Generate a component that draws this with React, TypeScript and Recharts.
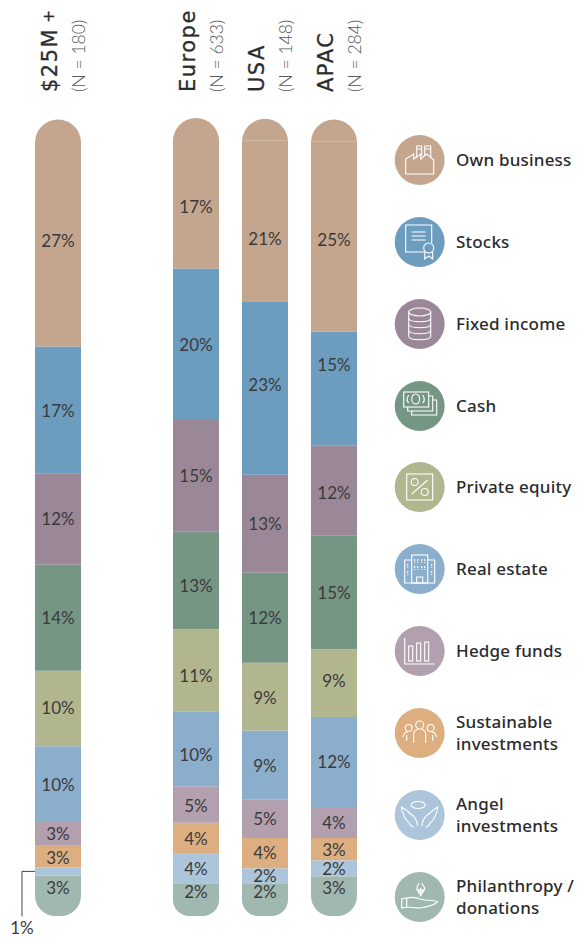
import React from 'react';
import { BarChart, Bar, XAxis, YAxis, LabelList } from 'recharts';

const GROUPS = ['$25M +', '', 'Europe', 'USA', 'APAC'];
const SAMPLE_SIZES = ['(N = 180)', '', '(N = 633)', '(N = 148)', '(N = 284)'];

// segment shares (the printed labels are the source's rounded figures)
const ownBusiness = [28.5, null, 18.9, 22.9, 26.6];
const stocks = [15.9, null, 18.9, 21.8, 14.3];
const fixedIncome = [11.5, null, 14.1, 12.3, 11.3];
const cash = [13.3, null, 12.3, 11.3, 14.3];
const privateEquity = [9.5, null, 10.3, 8.5, 8.5];
const realEstate = [9.5, null, 9.4, 8.7, 11.3];
const hedgeFunds = [2.9, null, 4.6, 4.8, 3.9];
const sustainable = [2.8, null, 3.8, 3.8, 2.8];
const angel = [1.0, null, 3.8, 1.9, 2.0];
const philanthropy = [5.1, null, 4.1, 4.1, 5.0];

const ownBusinessLabels = [27, null, 17, 21, 25];
const stocksLabels = [17, null, 20, 23, 15];
const fixedIncomeLabels = [12, null, 15, 13, 12];
const cashLabels = [14, null, 13, 12, 15];
const privateEquityLabels = [10, null, 11, 9, 9];
const realEstateLabels = [10, null, 10, 9, 12];
const hedgeFundsLabels = [3, null, 5, 5, 4];
const sustainableLabels = [3, null, 4, 4, 3];
const angelLabels = [1, null, 4, 2, 2];
const philanthropyLabels = [3, null, 2, 2, 3];

// labels are not always centred in the source, so each one gets a nudge.
// LabelList skips the empty group, so these only have the four real columns.
const NUDGES: Record<string, number[]> = {
  ownBusiness: [7, 13, 29, 14],
  stocks: [1, 1, -3, -24],
  fixedIncome: [0, 0, 0, 2],
  cash: [0, 5, 0, 0],
  privateEquity: [-1, 5, 1, -3],
  realEstate: [0, 6, 0, 0],
  hedgeFunds: [0, 1, 0, 0],
  sustainable: [1, 1, -1, 0],
  angel: [0, 0, 0, 0],
  philanthropy: [-8, -8, -8, -9],
};

const SERIES = [
  { key: 'philanthropy', values: philanthropy, labels: philanthropyLabels, color: '#A1B8B0' },
  { key: 'angel', values: angel, labels: angelLabels, color: '#ADC5DB' },
  { key: 'sustainable', values: sustainable, labels: sustainableLabels, color: '#DDAF80' },
  { key: 'hedgeFunds', values: hedgeFunds, labels: hedgeFundsLabels, color: '#B2A0AE' },
  { key: 'realEstate', values: realEstate, labels: realEstateLabels, color: '#8BAECC' },
  { key: 'privateEquity', values: privateEquity, labels: privateEquityLabels, color: '#B2B68F' },
  { key: 'cash', values: cash, labels: cashLabels, color: '#769684' },
  { key: 'fixedIncome', values: fixedIncome, labels: fixedIncomeLabels, color: '#9A8898' },
  { key: 'stocks', values: stocks, labels: stocksLabels, color: '#6C9DBF' },
  { key: 'ownBusiness', values: ownBusiness, labels: ownBusinessLabels, color: '#C4A68E' },
];

const chartData = GROUPS.map((group, i) => {
  const row: Record<string, string | number | null> = { group };
  SERIES.forEach((s) => {
    row[s.key] = s.values[i];
    row[`${s.key}Label`] = s.labels[i];
  });
  return row;
});

const TEXT_FONT = 'Lato, "Open Sans", sans-serif';
const LABEL_COLOR = '#3a3a3c';

const GroupTick = ({ x, payload, index }: any) => {
  if (!payload.value) return null;
  const i = GROUPS.indexOf(payload.value);
  const [name, plus] = payload.value.split(' ');
  return (
    <g key={index}>
      <text
        transform={`translate(${x - 1},92) rotate(-90)`}
        fontFamily="DejaVu Sans"
        fontSize={21}
        letterSpacing={1.5}
        stroke="#2b2b2d"
        strokeWidth={0.3}
        fill="#2b2b2d"
      >
        {name}
        {plus && <tspan fontSize={15} dx={5} dy={-3}>{plus}</tspan>}
      </text>
      <text
        transform={`translate(${x + 27},92) rotate(-90)`}
        fontFamily={TEXT_FONT}
        fontWeight={300}
        fontSize={17.5}
        fill="#5a5a5c"
      >
        {SAMPLE_SIZES[i]}
      </text>
    </g>
  );
};

const segmentLabel = (seriesKey: string) => (props: any) => {
  const { x, y, width, height, value, index } = props;
  if (value == null) return null;
  const cx = x + width / 2;
  if (seriesKey === 'angel' && index === 0) {
    // the 1% slice is too thin, so its label hangs off a leader line
    const midY = y + height / 2;
    return (
      <g>
        <path d={`M${x} ${midY}H${x - 13}V${midY + 45}`} fill="none" stroke="#444" strokeWidth={1} />
        <text x={x - 13} y={934} textAnchor="middle" fontFamily={TEXT_FONT} fontSize={17} fill={LABEL_COLOR}>
          {value}%
        </text>
      </g>
    );
  }
  return (
    <g>
      {/* the source has a faint seam under the cap on the two right columns */}
      {seriesKey === 'ownBusiness' && index >= 2 && (
        <line x1={x} x2={x + width} y1={y + 22} y2={y + 22} stroke="#D2BBA8" strokeWidth={1} />
      )}
      <text
        x={cx}
        y={y + height / 2 + NUDGES[seriesKey][index] + 6.5}
        textAnchor="middle"
        fontFamily={TEXT_FONT}
        fontSize={17}
        fill={LABEL_COLOR}
      >
        {value}%
      </text>
    </g>
  );
};

const LEGEND_NAMES = [
  ['Own business'],
  ['Stocks'],
  ['Fixed income'],
  ['Cash'],
  ['Private equity'],
  ['Real estate'],
  ['Hedge funds'],
  ['Sustainable', 'investments'],
  ['Angel', 'investments'],
  ['Philanthropy /', 'donations'],
];
const LEGEND_COLORS = ['#C4A68E', '#6C9DBF', '#9A8898', '#769684', '#B2B68F', '#8BAECC', '#B2A0AE', '#DDAF80', '#ADC5DB', '#A1B8B0'];
const LEGEND_Y = [160, 242, 324, 406, 487, 569, 651, 733, 815, 897];

const WING = 'M-2 11C-3 6 -4 2 -9 -1C-12 -4 -15 -6 -18 -8C-18 -4 -17 -2 -16 -1C-16 1 -15 3 -14 3C-14 5 -12 7 -11 7C-10 9 -8 12 -6 12';

// little white outline icons, drawn around the circle's centre
const ICONS: React.ReactNode[] = [
  <>
    <path d="M-14 14V-1L-6 -6V-1L1 -6V-1L7 -6L14 0V14Z" />
    <path d="M-3 -2V-14H2V-4M5 -5V-14H11V-2M-3 -11H2M5 -11H11" />
  </>,
  <>
    <path d="M5 10H-14V-17H12V1" />
    <path d="M-8 -10H6M-8 -6H6M-8 -2H6" />
    <circle cx={9} cy={6} r={5} />
    <path d="M5 10V17L9 14L13 17V10" />
  </>,
  <>
    <ellipse cx={0} cy={-12} rx={11} ry={4} />
    <path d="M-11 -12V12C-11 17 11 17 11 12V-12M-11 -6C-11 -1 11 -1 11 -6M-11 0C-11 5 11 5 11 0M-11 6C-11 11 11 11 11 6" />
  </>,
  <>
    <rect x={-16} y={-14} width={25} height={15} />
    <path d="M9 -10H13V5H-12V1M13 -6H17V9H-8V5" />
    <ellipse cx={-4} cy={-7} rx={4} ry={5} />
    <path d="M-11 -11C-13 -8 -13 -5 -11 -3M3 -11C5 -8 5 -5 3 -3" />
  </>,
  <>
    <rect x={-13} y={-13} width={26} height={26} />
    <path d="M-8 7L8 -7" />
    <circle cx={-5} cy={-5} r={3.5} />
    <circle cx={5} cy={5} r={3.5} />
  </>,
  <>
    <rect x={-8} y={-14} width={16} height={28} />
    <path d="M-8 -9H-15V14H15V-9H8M-3 14V8H3V14" />
    <path d="M-5 -10V-6M-2 -10V-6M2 -10V-6M5 -10V-6M-5 -3V1M-2 -3V1M2 -3V1M5 -3V1M-12 -5V-1M-12 2V6M12 -5V-1M12 2V6" strokeDasharray="2 1" />
  </>,
  <>
    <path d="M-15 -13V13H15" />
    <rect x={-11} y={-5} width={4} height={15} />
    <rect x={-3} y={-8} width={4} height={18} />
    <rect x={5} y={-9} width={4} height={19} />
  </>,
  <>
    <circle cx={0} cy={-8} r={4} />
    <circle cx={-11} cy={-5} r={3.5} />
    <circle cx={11} cy={-5} r={3.5} />
    <path d="M-6 10V1C-6 -2 -4 -3 -2 -4M6 10V1C6 -2 4 -3 2 -4M-17 4C-16 1 -14 -1 -12 -1M-13 8V2M17 4C16 1 14 -1 12 -1M13 8V2" />
  </>,
  <>
    <ellipse cx={-1.5} cy={-10} rx={7} ry={3.5} />
    <path d={WING} />
    <path d={WING} transform="scale(-1,1)" />
  </>,
  <>
    <path d="M-13 1C-8 0 -4 0 0 2L5 3C9 3 14 3 18 5C14 8 8 10 0 11C-4 11 -9 10 -13 10ZM-18 2L-13 1V10L-18 11Z" />
    <path d="M-3 -8L1 -1L5 -8C5 -11 3 -11 2 -14M-3 -8C-3 -11 -1 -11 -1 -14M-1 -8V-4M1 -9V-2M3 -8V-4M-3 -7H5M-2 -5H4" />
  </>,
];

const LegendPanel = () => (
  <svg width={582} height={937} style={{ position: 'absolute', left: 0, top: 0, pointerEvents: 'none' }}>
    {LEGEND_NAMES.map((lines, i) => (
      <g key={lines[0]}>
        <circle cx={419.7} cy={LEGEND_Y[i]} r={25} fill={LEGEND_COLORS[i]} />
        <g transform={`translate(419.7,${LEGEND_Y[i]})`} fill="none" stroke="#fff" strokeWidth={1.1}>
          {ICONS[i]}
        </g>
        {lines.map((line, j) => (
          <text
            key={line}
            x={456}
            y={LEGEND_Y[i] + 6 + (j - (lines.length - 1) / 2) * 22}
            fontFamily='"Noto Sans", sans-serif'
            fontWeight={500}
            fontSize={17}
            letterSpacing={0.2}
            fill="#2b2b2d"
          >
            {line}
          </text>
        ))}
      </g>
    ))}
  </svg>
);

export default function App() {
  return (
    <div style={{ position: 'absolute', left: 0, top: 0, width: 582, height: 937, background: '#fff' }}>
      <BarChart
        width={582}
        height={937}
        data={chartData}
        margin={{ top: 18, right: 214, bottom: 21, left: 23 }}
        barSize={46}
        barCategoryGap={0}
      >
        <XAxis dataKey="group" orientation="top" height={100} axisLine={false} tickLine={false} interval={0} tick={<GroupTick />} />
        <YAxis hide domain={[0, 100]} />
        {SERIES.map((s, i) => (
          <Bar
            key={s.key}
            dataKey={s.key}
            stackId="a"
            fill={s.color}
            isAnimationActive={false}
            radius={i === 0 ? [0, 0, 23, 23] : i === SERIES.length - 1 ? [23, 23, 0, 0] : 0}
          >
            <LabelList dataKey={`${s.key}Label`} content={segmentLabel(s.key)} />
          </Bar>
        ))}
      </BarChart>
      <LegendPanel />
    </div>
  );
}
